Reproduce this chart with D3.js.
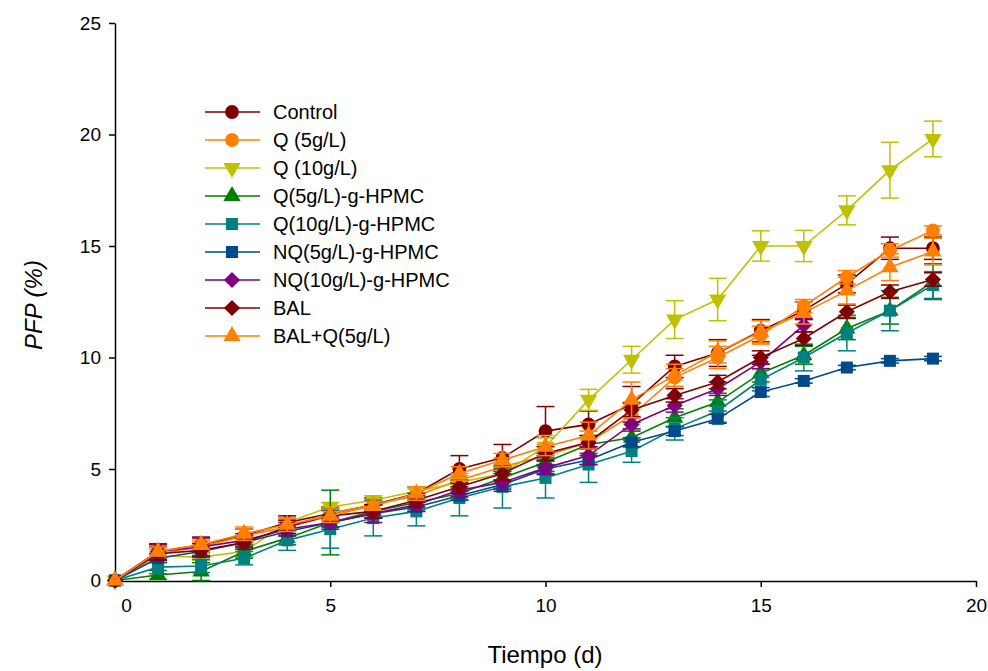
<!DOCTYPE html>
<html>
<head>
<meta charset="utf-8">
<script src="https://cdn.jsdelivr.net/npm/d3@7"></script>
<style>
  body { margin: 0; background: #fff; }
  svg { font-family: "Liberation Sans", Arial, sans-serif; }
</style>
</head>
<body>
<script>
// days sampled
var days = [0,1,2,3,4,5,6,7,8,9,10,11,12,13,14,15,16,17,18,19];

var seriesNames = ["Control", "Q (5g/L)", "Q (10g/L)", "Q(5g/L)-g-HPMC", "Q(10g/L)-g-HPMC",
  "NQ(5g/L)-g-HPMC", "NQ(10g/L)-g-HPMC", "BAL", "BAL+Q(5g/L)"];
var seriesColors = ["#800000", "#ff8000", "#c0c000", "#008000", "#008080",
  "#004a8c", "#800080", "#800000", "#ff8000"];
var seriesShapes = ["circle", "circle", "tridown", "triup", "square", "square", "diamond", "diamond", "triup"];

// PFP (%) means, one array per treatment
var control   = [0, 1.3, 1.6, 2.0, 2.6, 3.0, 3.4, 3.9, 5.0, 5.5, 6.7, 7.0, 7.9, 9.6, 10.2, 11.2, 12.1, 13.3, 14.9, 14.9];
var q5        = [0, 1.2, 1.5, 2.0, 2.4, 3.0, 3.4, 3.8, 4.5, 5.1, 5.6, 6.2, 7.4, 9.1, 10.0, 11.0, 12.3, 13.6, 14.8, 15.7];
var q10       = [0, 1.1, 1.05, 1.3, 2.6, 3.3, 3.6, 4.0, 4.4, 4.8, 6.0, 8.1, 9.9, 11.7, 12.6, 15.0, 15.0, 16.6, 18.4, 19.8];
var q5hpmc    = [0, 0.25, 0.4, 1.3, 1.9, 2.6, 3.1, 3.5, 3.9, 4.6, 5.3, 6.1, 6.4, 7.3, 8.0, 9.3, 10.1, 11.3, 12.1, 13.4];
var q10hpmc   = [0, 0.6, 0.65, 1.0, 1.8, 2.3, 2.8, 3.1, 3.7, 4.2, 4.6, 5.2, 5.8, 6.8, 7.6, 9.0, 10.0, 11.1, 12.1, 13.25];
var nq5hpmc   = [0, 1.0, 1.3, 1.7, 2.2, 2.6, 3.0, 3.3, 3.8, 4.3, 5.0, 5.4, 6.2, 6.7, 7.25, 8.45, 8.95, 9.55, 9.85, 9.95];
var nq10hpmc  = [0, 1.3, 1.5, 1.8, 2.3, 2.6, 3.0, 3.4, 4.05, 4.4, 5.05, 5.6, 7.0, 7.85, 8.6, 9.8, 11.45];
var bal       = [0, 1.2, 1.35, 1.7, 2.4, 2.9, 3.1, 3.6, 4.2, 4.8, 5.7, 6.2, 7.65, 8.3, 8.9, 10.0, 10.85, 12.05, 12.95, 13.5];
var balq5     = [0, 1.3, 1.6, 2.1, 2.5, 2.9, 3.35, 3.9, 4.8, 5.4, 6.0, 6.5, 8.1, 9.2, 10.25, 11.15, 12.0, 13.0, 14.05, 14.75];

// standard deviations
var controlErr  = [0, 0.3, 0.35, 0.3, 0.3, 0.3, 0.3, 0.3, 0.6, 0.6, 1.1, 0.6, 0.8, 0.5, 0.6, 0.5, 0.4, 0.4, 0.5, 0.5];
var q5Err       = [0, 0.2, 0.2, 0.3, 0.3, 0.3, 0.2, 0.3, 0.3, 0.4, 0.5, 0.5, 0.6, 0.4, 0.5, 0.4, 0.3, 0.3, 0.3, 0.2];
var q10Err      = [0, 0.15, 0.15, 0.25, 0.2, 0.2, 0.2, 0.2, 0.3, 0.4, 0.5, 0.47, 0.6, 0.85, 0.95, 0.68, 0.7, 0.65, 1.25, 0.8];
var q5hpmcErr   = [0, 0.2, 0.4, 0.3, 0.3, 1.45, 0.3, 0.3, 0.3, 0.4, 0.4, 0.4, 0.4, 0.4, 0.4, 0.4, 0.4, 0.5, 0.6, 0.8];
var q10hpmcErr  = [0, 0.3, 0.3, 0.3, 0.45, 0.85, 0.8, 0.65, 0.8, 0.95, 0.9, 0.8, 0.5, 0.5, 0.5, 0.5, 0.6, 0.8, 0.9, 0.6];
var nq5hpmcErr  = [0, 0.2, 0.2, 0.2, 0.2, 0.2, 0.2, 0.2, 0.2, 0.2, 0.2, 0.2, 0.2, 0.2, 0.2, 0.2, 0.1, 0.1, 0.1, 0.1];
var nq10hpmcErr = [0, 0.35, 0.4, 0.3, 0.3, 0.3, 0.4, 0.3, 0.3, 0.4, 0.3, 0.4, 0.3, 0.3, 0.3, 0.3, 0.3];
var balErr      = [0, 0.3, 0.3, 0.3, 0.3, 0.3, 0.3, 0.3, 0.3, 0.3, 0.3, 0.3, 0.3, 0.3, 0.3, 0.3, 0.3, 0.3, 0.3, 0.3];
var balq5Err    = [0, 0.2, 0.2, 0.3, 0.3, 0.3, 0.2, 0.3, 0.3, 0.3, 0.4, 0.6, 0.8, 0.5, 0.5, 0.5, 0.5, 0.6, 0.6, 0.6];

var allValues = [control, q5, q10, q5hpmc, q10hpmc, nq5hpmc, nq10hpmc, bal, balq5];
var allErrors = [controlErr, q5Err, q10Err, q5hpmcErr, q10hpmcErr, nq5hpmcErr, nq10hpmcErr, balErr, balq5Err];

var xTicks = [0, 5, 10, 15, 20];
var yTicks = [0, 5, 10, 15, 20, 25];

var width = 988, height = 671;
var svg = d3.select("body").append("svg")
  .attr("width", width)
  .attr("height", height);

var x = d3.scaleLinear().domain([0, 20]).range([115, 976]);
var y = d3.scaleLinear().domain([0, 25]).range([580.5, 23]);

// axes
var xAxis = svg.append("g")
  .attr("transform", "translate(0,581)")
  .call(d3.axisBottom(x).tickValues(xTicks).tickSize(6).tickPadding(12).tickSizeOuter(0));
xAxis.selectAll("text").attr("dx", function(d) { return d === 0 ? 11 : 0; });

var yAxis = svg.append("g")
  .attr("transform", "translate(115,0)")
  .call(d3.axisLeft(y).tickValues(yTicks).tickSize(6).tickPadding(8).tickSizeOuter(0));

[xAxis, yAxis].forEach(function(ax) {
  ax.select(".domain").attr("stroke", "#000").attr("stroke-width", 1.5);
  ax.selectAll(".tick line").attr("stroke", "#000").attr("stroke-width", 1.5);
  ax.selectAll("text").attr("font-size", 19).attr("fill", "#000")
    .attr("font-family", "Liberation Sans, Arial, sans-serif");
});

svg.append("text")
  .attr("x", 545).attr("y", 663)
  .attr("text-anchor", "middle")
  .attr("font-size", 24)
  .text("Tiempo (d)");

svg.append("text")
  .attr("transform", "translate(42,305) rotate(-90)")
  .attr("text-anchor", "middle")
  .attr("font-size", 24)
  .attr("font-style", "italic")
  .text("PFP (%)");

function symbolPath(shape) {
  if (shape === "circle") return d3.symbol().type(d3.symbolCircle).size(150)();
  if (shape === "square") return d3.symbol().type(d3.symbolSquare).size(144)();
  if (shape === "diamond") return d3.symbol().type(d3.symbolSquare).size(130)();
  return d3.symbol().type(d3.symbolTriangle).size(130)();
}
function symbolRotate(shape) {
  if (shape === "diamond") return 45;
  if (shape === "tridown") return 180;
  return 0;
}

var line = d3.line()
  .x(function(d) { return x(d.day); })
  .y(function(d) { return y(d.v); });

allValues.forEach(function(vals, s) {
  var pts = vals.map(function(v, i) { return { day: days[i], v: v, e: allErrors[s][i] }; });
  var color = seriesColors[s];
  var g = svg.append("g");

  // error bars
  var eb = g.selectAll(".eb").data(pts.filter(function(p) { return p.e > 0; })).enter().append("g");
  eb.append("line")
    .attr("x1", function(d) { return x(d.day); }).attr("x2", function(d) { return x(d.day); })
    .attr("y1", function(d) { return y(d.v - d.e); }).attr("y2", function(d) { return y(d.v + d.e); })
    .attr("stroke", color).attr("stroke-width", 1.5);
  [-1, 1].forEach(function(sign) {
    eb.append("line")
      .attr("x1", function(d) { return x(d.day) - 9; }).attr("x2", function(d) { return x(d.day) + 9; })
      .attr("y1", function(d) { return y(d.v + sign * d.e); }).attr("y2", function(d) { return y(d.v + sign * d.e); })
      .attr("stroke", color).attr("stroke-width", 1.5);
  });

  g.append("path")
    .datum(pts)
    .attr("d", line)
    .attr("fill", "none")
    .attr("stroke", color)
    .attr("stroke-width", 1.6);

  var shape = seriesShapes[s];
  g.selectAll(".mk").data(pts).enter().append("path")
    .attr("d", symbolPath(shape))
    .attr("transform", function(d) {
      return "translate(" + x(d.day) + "," + y(d.v) + ") rotate(" + symbolRotate(shape) + ")";
    })
    .attr("fill", color);
});

// legend
var legend = svg.append("g");
seriesNames.forEach(function(name, s) {
  var ly = 112 + s * 28;
  legend.append("line")
    .attr("x1", 205).attr("x2", 260).attr("y1", ly).attr("y2", ly)
    .attr("stroke", seriesColors[s]).attr("stroke-width", 1.6);
  legend.append("path")
    .attr("d", symbolPath(seriesShapes[s]))
    .attr("transform", "translate(232," + ly + ") rotate(" + symbolRotate(seriesShapes[s]) + ")")
    .attr("fill", seriesColors[s]);
  legend.append("text")
    .attr("x", 273).attr("y", ly + 7)
    .attr("font-size", 20)
    .text(name);
});
</script>
</body>
</html>
